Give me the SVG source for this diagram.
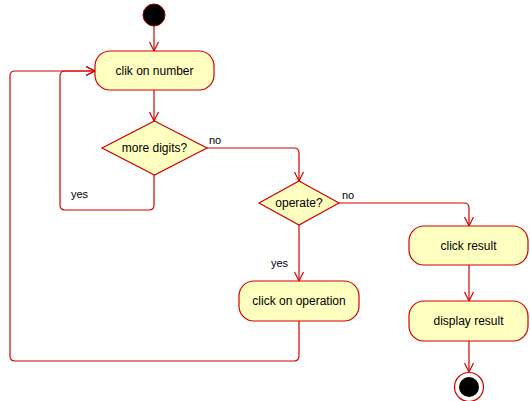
<svg xmlns="http://www.w3.org/2000/svg" width="530" height="401" viewBox="0 0 530 401">
<style>
.node{fill:#ffffc0;stroke:#d40000;stroke-width:1.2}
.lbl{font-family:"Liberation Sans",Arial,sans-serif;font-size:12px;fill:#000;text-anchor:middle}
.edge{font-family:"Liberation Sans",Arial,sans-serif;font-size:11px;fill:#000}
.conn{fill:none;stroke:#d40000;stroke-width:1.2}
</style>
<defs>
<marker id="arr" markerUnits="userSpaceOnUse" markerWidth="12" markerHeight="12" viewBox="0 0 12 12" refX="10" refY="6" orient="auto">
<path d="M1,1.5 L10,6 L1,10.5" fill="none" stroke="#d40000" stroke-width="1.2"/>
</marker>
</defs>
<rect width="530" height="401" fill="#fff"/>
<g id="connectors">
<path class="conn" d="M154,26 V51" marker-end="url(#arr)"/>
<path class="conn" d="M154,90 V121" marker-end="url(#arr)"/>
<path class="conn" d="M154,175 V205 Q154,210 149,210 H65 Q60,210 60,205 V76 Q60,71 65,71 H95" marker-end="url(#arr)"/>
<path class="conn" d="M299,321 V356 Q299,361 294,361 H15 Q10,361 10,356 V76 Q10,71 15,71 H95" marker-end="url(#arr)"/>
<path class="conn" d="M207,148 H294 Q299,148 299,153 V181" marker-end="url(#arr)"/>
<path class="conn" d="M339,203 H464 Q469,203 469,208 V226" marker-end="url(#arr)"/>
<path class="conn" d="M299,225 V281" marker-end="url(#arr)"/>
<path class="conn" d="M469,265 V301" marker-end="url(#arr)"/>
<path class="conn" d="M469,341 V372" marker-end="url(#arr)"/>
<text class="edge" x="209" y="144">no</text>
<text class="edge" x="71" y="198">yes</text>
<text class="edge" x="342" y="199">no</text>
<text class="edge" x="271" y="267">yes</text>
</g>
<g id="start">
<circle cx="154" cy="15" r="11" fill="#000" stroke="#a00000" stroke-width="1"/>
</g>
<g id="clik-on-number">
<rect class="node" x="95" y="51" width="119" height="39" rx="15" ry="15"/>
<text class="lbl" x="154.5" y="75">clik on number</text>
</g>
<g id="more-digits">
<polygon class="node" points="154.5,121 207,148 154.5,175 102,148"/>
<text class="lbl" x="154.5" y="152">more digits?</text>
</g>
<g id="operate">
<polygon class="node" points="299,181 339,203 299,225 259,203"/>
<text class="lbl" x="299" y="207">operate?</text>
</g>
<g id="click-on-operation">
<rect class="node" x="239" y="281" width="120" height="40" rx="15" ry="15"/>
<text class="lbl" x="299" y="305">click on operation</text>
</g>
<g id="click-result">
<rect class="node" x="409" y="226" width="119" height="39" rx="15" ry="15"/>
<text class="lbl" x="468.5" y="250">click result</text>
</g>
<g id="display-result">
<rect class="node" x="409" y="301" width="119" height="40" rx="15" ry="15"/>
<text class="lbl" x="468.5" y="325">display result</text>
</g>
<g id="end">
<circle cx="469" cy="387" r="14.5" fill="#fff" stroke="#d40000" stroke-width="1.2"/>
<circle cx="469" cy="387" r="10" fill="#000"/>
</g>
</svg>
